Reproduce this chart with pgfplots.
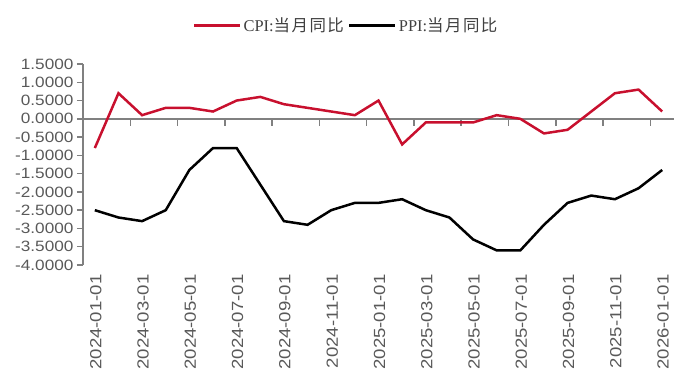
\documentclass[border=0pt]{standalone}
\usepackage{fontspec}
\usepackage{pgfplots}
\pgfplotsset{compat=1.18}
\setmainfont{Liberation Serif}
\newfontfamily\tickfont{Liberation Sans}[FakeStretch=1.15]
\newfontfamily\cjk{Noto Sans CJK SC}[LetterSpace=9]
\definecolor{cpired}{RGB}{200,16,46}
\definecolor{axgray}{RGB}{128,128,128}
\definecolor{lblgray}{RGB}{89,89,89}
\definecolor{leggray}{RGB}{64,64,64}
\begin{document}
\begin{tikzpicture}
\path[use as bounding box] (-83bp,-117bp) rectangle (597bp,265bp);
\begin{axis}[
  at={(0,0)}, anchor=south west,
  scale only axis, width=591bp, height=201bp,
  xmin=-0.5, xmax=24.5, ymin=-4, ymax=1.5,
  clip=false,
  axis y line*=left, axis x line*=bottom,
  x axis line style={draw=none},
  y axis line style={draw=axgray, line width=1.5bp},
  ytick={-4,-3.5,-3,-2.5,-2,-1.5,-1,-0.5,0,0.5,1,1.5},
  xtick={0,2,4,6,8,10,12,14,16,18,20,22,24},
  xticklabels={2024-01-01,2024-03-01,2024-05-01,2024-07-01,2024-09-01,2024-11-01,2025-01-01,2025-03-01,2025-05-01,2025-07-01,2025-09-01,2025-11-01,2026-01-01},
  tick align=outside,
  major tick length=6bp,
  xtick style={draw=none},
  ytick style={draw=axgray, line width=1.5bp},
  y tick label style={font=\fontsize{15}{15}\tickfont, text=lblgray,
    /pgf/number format/.cd, fixed, fixed zerofill, precision=4, assume math mode=true},
  x tick label style={font=\fontsize{16.2}{16}\tickfont, text=lblgray, rotate=90, anchor=east, yshift=-1bp},
  legend style={at={(axis description cs:0.445,1.194)}, anchor=center, draw=none, fill=none,
    legend columns=2, font=\fontsize{16.5}{16.5}\selectfont, text=leggray,
    /tikz/every even column/.append style={column sep=2bp}},
  legend image code/.code={\draw[#1,line width=3bp] (0bp,0bp) -- (46bp,0bp);},
]
\addplot[axgray, line width=1.5bp, forget plot] coordinates {(-0.5,0) (24.5,0)};
\addplot[ycomb, axgray, line width=1.5bp, forget plot] coordinates {
(1.5,-0.21) (3.5,-0.21) (5.5,-0.21) (7.5,-0.21) (9.5,-0.21) (11.5,-0.21)
(13.5,-0.21) (15.5,-0.21) (17.5,-0.21) (19.5,-0.21) (21.5,-0.21) (23.5,-0.21)};
\addplot[cpired, line width=2.5bp] coordinates {
(0,-0.8) (1,0.7) (2,0.1) (3,0.3) (4,0.3) (5,0.2) (6,0.5) (7,0.6) (8,0.4) (9,0.3)
(10,0.2) (11,0.1) (12,0.5) (13,-0.7) (14,-0.1) (15,-0.1) (16,-0.1) (17,0.1) (18,0.0)
(19,-0.4) (20,-0.3) (21,0.2) (22,0.7) (23,0.8) (24,0.2)};
\addlegendentry{CPI:{\cjk 当月同比}}
\addplot[black, line width=2.5bp] coordinates {
(0,-2.5) (1,-2.7) (2,-2.8) (3,-2.5) (4,-1.4) (5,-0.8) (6,-0.8) (7,-1.8) (8,-2.8) (9,-2.9)
(10,-2.5) (11,-2.3) (12,-2.3) (13,-2.2) (14,-2.5) (15,-2.7) (16,-3.3) (17,-3.6) (18,-3.6)
(19,-2.9) (20,-2.3) (21,-2.1) (22,-2.2) (23,-1.9) (24,-1.4)};
\addlegendentry{PPI:{\cjk 当月同比}}
\end{axis}
\end{tikzpicture}
\end{document}
